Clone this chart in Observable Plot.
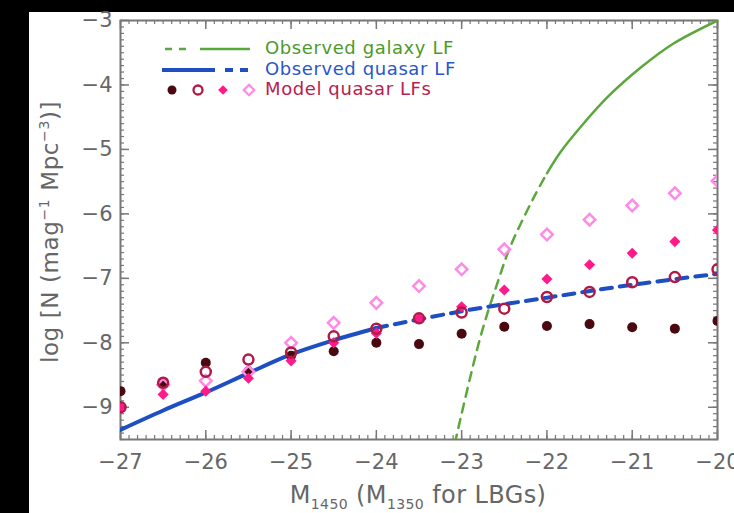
<!DOCTYPE html>
<html><head><meta charset="utf-8">
<script src="https://cdn.jsdelivr.net/npm/d3@7"></script>
<script src="https://cdn.jsdelivr.net/npm/@observablehq/plot@0.6"></script>
<style>
html,body{margin:0;padding:0;background:#000;width:734px;height:513px;overflow:hidden}
#chart{position:absolute;left:29px;top:12px;width:705px;height:501px;background:#fff}
#chart svg{display:block;overflow:visible}
</style></head><body><div id="chart"></div>
<script>
// ---- data ----
const xTickValues = [-27, -26, -25, -24, -23, -22, -21, -20];
const yTickValues = [-9, -8, -7, -6, -5, -4, -3];

// observed galaxy (LBG) LF: dashed part then solid part
const galDashX = [-23.08, -22.78, -22.58, -22.43, -22.16, -22.0];
const galDashY = [-9.56, -7.91, -7.07, -6.51, -5.76, -5.37];
const galSolidX = [-22.0, -21.84, -21.61, -21.29, -20.90, -20.52, -20.0];
const galSolidY = [-5.37, -5.04, -4.66, -4.19, -3.73, -3.36, -3.0];

// observed quasar LF: solid part then dashed part
const qsoSolidX = [-27, -26.5, -26, -25.5, -25, -24.5, -24];
const qsoSolidY = [-9.35, -9.05, -8.77, -8.47, -8.18, -7.96, -7.77];
const qsoDashX = [-24, -23, -22, -21, -20];
const qsoDashY = [-7.77, -7.51, -7.30, -7.10, -6.93];

// model quasar LFs
const modelMags = [-27, -26.5, -26, -25.5, -25, -24.5, -24, -23.5, -23, -22.5, -22, -21.5, -21, -20.5, -20];
const modelDark   = [-8.75, -8.62, -8.31, -8.44, -8.20, -8.13, -8.00, -8.02, -7.86, -7.75, -7.74, -7.71, -7.76, -7.78, -7.66];
const modelRing   = [-9.00, -8.62, -8.45, -8.26, -8.15, -7.90, -7.78, -7.62, -7.53, -7.47, -7.29, -7.21, -7.06, -6.98, -6.86];
const modelPink   = [-9.00, -8.80, -8.75, -8.55, -8.28, -8.00, -7.85, -7.62, -7.44, -7.18, -7.01, -6.79, -6.61, -6.43, -6.25];
const modelLight  = [null, -8.65, -8.59, -8.45, -8.00, -7.69, -7.38, -7.12, -6.86, -6.55, -6.32, -6.09, -5.87, -5.68, -5.49];

const legendLabels = ["Observed galaxy LF", "Observed quasar LF", "Model quasar LFs"];

// ---- styling ----
const C = {
  green: "#5aa83c", blue: "#1d4fc2", dark: "#4a0810", ring: "#b01a45",
  pink: "#ff1a8a", light: "#ff8ae6", axis: "#777", text: "#666",
  gTxt: "#4c9a2a", bTxt: "#2a56c8", rTxt: "#b8204e"
};
const FONT = "DejaVu Sans, sans-serif";
const W = 705, H = 501, mL = 91, mR = 17, mT = 8, mB = 74;
const fw = W - mL - mR, fh = H - mT - mB;

const pts = (xs, ys) => xs.map((x, i) => ({x, y: ys[i]})).filter(d => d.y != null);
const xMinor = d3.range(-27, -19.95, 0.1).map(v => +v.toFixed(2));
const yMinor = d3.range(-9.5, -2.95, 0.1).map(v => +v.toFixed(2));
const fmt = d3.format("d");

const plot = Plot.plot({
  width: W, height: H,
  marginLeft: mL, marginRight: mR, marginTop: mT, marginBottom: mB,
  x: {domain: [-27, -20], axis: null},
  y: {domain: [-9.5, -3], axis: null},
  style: {fontFamily: FONT, fontSize: "21px", color: C.text, background: "#fff", overflow: "visible"},
  marks: [
    // ticks (inward, all four sides)
    Plot.ruleX(xMinor, {x: d => d, stroke: C.axis, strokeWidth: 1.2, insetTop: fh - 4}),
    Plot.ruleX(xMinor, {x: d => d, stroke: C.axis, strokeWidth: 1.2, insetBottom: fh - 4}),
    Plot.ruleX(xTickValues, {x: d => d, stroke: C.axis, strokeWidth: 1.5, insetTop: fh - 9}),
    Plot.ruleX(xTickValues, {x: d => d, stroke: C.axis, strokeWidth: 1.5, insetBottom: fh - 9}),
    Plot.ruleY(yMinor, {y: d => d, stroke: C.axis, strokeWidth: 1.2, insetRight: fw - 4}),
    Plot.ruleY(yMinor, {y: d => d, stroke: C.axis, strokeWidth: 1.2, insetLeft: fw - 4}),
    Plot.ruleY(yTickValues, {y: d => d, stroke: C.axis, strokeWidth: 1.5, insetRight: fw - 9}),
    Plot.ruleY(yTickValues, {y: d => d, stroke: C.axis, strokeWidth: 1.5, insetLeft: fw - 9}),
    Plot.frame({stroke: C.axis, strokeWidth: 2}),
    Plot.axisX(xTickValues, {anchor: "bottom", tickSize: 0, tickPadding: 15, tickFormat: fmt, label: null, fill: C.text}),
    Plot.axisY(yTickValues, {anchor: "left", tickSize: 0, tickPadding: 8, tickFormat: fmt, label: null, fill: C.text}),
    // lines
    Plot.line(pts(galDashX, galDashY), {x: "x", y: "y", stroke: C.green, strokeWidth: 2.5, strokeDasharray: "9,7", curve: "catmull-rom", clip: true}),
    Plot.line(pts(galSolidX, galSolidY), {x: "x", y: "y", stroke: C.green, strokeWidth: 2.5, curve: "catmull-rom", clip: true}),
    Plot.line(pts(qsoSolidX, qsoSolidY), {x: "x", y: "y", stroke: C.blue, strokeWidth: 4, curve: "catmull-rom", clip: true}),
    Plot.line(pts(qsoDashX, qsoDashY), {x: "x", y: "y", stroke: C.blue, strokeWidth: 4, strokeDasharray: "11,8", curve: "catmull-rom", clip: true}),
    // model points
    Plot.dot(pts(modelMags, modelDark), {x: "x", y: "y", r: 5, fill: C.dark, stroke: "none", clip: true}),
    Plot.dot(pts(modelMags, modelLight), {x: "x", y: "y", r: 5.2, symbol: "diamond2", fill: "none", stroke: C.light, strokeWidth: 2.5, clip: true}),
    Plot.dot(pts(modelMags, modelPink), {x: "x", y: "y", r: 5, symbol: "diamond2", fill: C.pink, stroke: "none", clip: true}),
    Plot.dot(pts(modelMags, modelRing), {x: "x", y: "y", r: 5, fill: "none", stroke: C.ring, strokeWidth: 2.5, clip: true})
  ]
});
document.getElementById("chart").appendChild(plot);

// ---- legend and axis titles ----
const svg = d3.select(plot);
const ox = 29, oy = 12;
const g = svg.append("g").attr("font-family", FONT).attr("text-anchor", "start");
// row 1: galaxy
g.append("line").attr("x1", 165-ox).attr("x2", 190-ox).attr("y1", 49-oy).attr("y2", 49-oy)
  .attr("stroke", C.green).attr("stroke-width", 2.5).attr("stroke-dasharray", "7,7");
g.append("line").attr("x1", 200-ox).attr("x2", 250-ox).attr("y1", 49-oy).attr("y2", 49-oy)
  .attr("stroke", C.green).attr("stroke-width", 2.5);
g.append("text").attr("x", 265-ox).attr("y", 54-oy).attr("font-size", 18).attr("letter-spacing", 0.6).attr("fill", C.gTxt).text(legendLabels[0]);
// row 2: quasar
g.append("line").attr("x1", 162-ox).attr("x2", 215-ox).attr("y1", 70-oy).attr("y2", 70-oy)
  .attr("stroke", C.blue).attr("stroke-width", 4);
g.append("line").attr("x1", 225-ox).attr("x2", 250-ox).attr("y1", 70-oy).attr("y2", 70-oy)
  .attr("stroke", C.blue).attr("stroke-width", 4).attr("stroke-dasharray", "8,7");
g.append("text").attr("x", 265-ox).attr("y", 75-oy).attr("font-size", 18).attr("letter-spacing", 0.6).attr("fill", C.bTxt).text(legendLabels[1]);
// row 3: model markers
const sym = (type, size) => d3.symbol(type, size)();
g.append("circle").attr("cx", 172-ox).attr("cy", 90-oy).attr("r", 4.5).attr("fill", C.dark);
g.append("circle").attr("cx", 198-ox).attr("cy", 90-oy).attr("r", 4.5).attr("fill", "none").attr("stroke", C.ring).attr("stroke-width", 2.3);
g.append("path").attr("d", sym(d3.symbolDiamond2, 60)).attr("transform", `translate(${223-ox},${90-oy})`).attr("fill", C.pink);
g.append("path").attr("d", sym(d3.symbolDiamond2, 70)).attr("transform", `translate(${249-ox},${90-oy})`).attr("fill", "none").attr("stroke", C.light).attr("stroke-width", 2.3);
g.append("text").attr("x", 265-ox).attr("y", 95-oy).attr("font-size", 18).attr("letter-spacing", 0.6).attr("fill", C.rTxt).text(legendLabels[2]);

// axis titles
const tx = svg.append("text").attr("x", 418-ox).attr("y", 503-oy).attr("text-anchor", "middle")
  .attr("font-family", FONT).attr("font-size", 24).attr("letter-spacing", 0.4).attr("fill", C.text);
tx.append("tspan").text("M");
tx.append("tspan").attr("font-size", 14).attr("dy", 6).text("1450");
tx.append("tspan").attr("dy", -6).text(" (M");
tx.append("tspan").attr("font-size", 14).attr("dy", 6).text("1350");
tx.append("tspan").attr("dy", -6).text(" for LBGs)");

const ty = svg.append("text").attr("transform", `translate(${58-ox},${232-oy}) rotate(-90)`).attr("text-anchor", "middle")
  .attr("font-family", FONT).attr("font-size", 23).attr("letter-spacing", 0.6).attr("fill", C.text);
ty.append("tspan").text("log [N (mag");
ty.append("tspan").attr("font-size", 14).attr("dy", -9).text("−1");
ty.append("tspan").attr("dy", 9).text(" Mpc");
ty.append("tspan").attr("font-size", 14).attr("dy", -9).text("−3");
ty.append("tspan").attr("dy", 9).text(")]");
</script>
</body></html>
